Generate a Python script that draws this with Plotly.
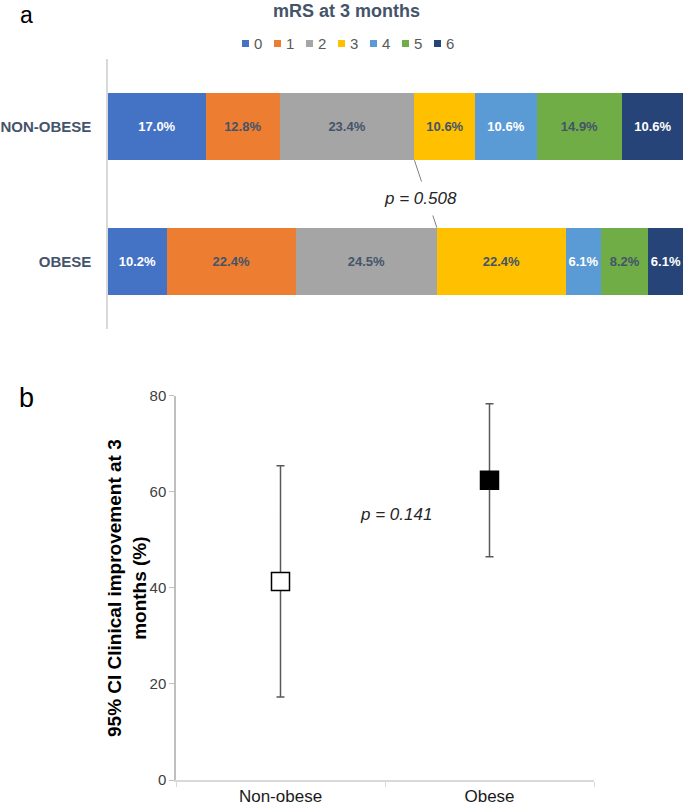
import plotly.graph_objects as go
import numpy as np

# ---------------- data ----------------
groups = ["NON-OBESE", "OBESE"]
mrs_levels = ["0", "1", "2", "3", "4", "5", "6"]
non_obese_pct = [17.0, 12.8, 23.4, 10.6, 10.6, 14.9, 10.6]
obese_pct = [10.2, 22.4, 24.5, 22.4, 6.1, 8.2, 6.1]
p_mrs = "p = 0.508"

ci_groups = ["Non-obese", "Obese"]
ci_mean = [41.3, 62.4]
ci_upper = [65.4, 78.3]
ci_lower = [17.3, 46.5]
p_ci = "p = 0.141"
y_ticks = [0, 20, 40, 60, 80]

# ---------------- style ----------------
colors = ["#4472C4", "#ED7D31", "#A5A5A5", "#FFC000", "#5B9BD5", "#70AD47", "#264478"]
label_colors = ["#FFFFFF", "#44546A", "#44546A", "#44546A", "#FFFFFF", "#44546A", "#FFFFFF"]
FONT = "Arial, Liberation Sans, sans-serif"
W, H = 685, 808

def px(x):
    return x / W

def py(y):
    return 1 - y / H

fig = go.Figure()

# ---------------- panel a: stacked bars ----------------
for i, lvl in enumerate(mrs_levels):
    vals = [obese_pct[i], non_obese_pct[i]]
    fig.add_trace(go.Bar(
        y=["OBESE", "NON-OBESE"], x=vals, orientation="h",
        name=lvl, marker=dict(color=colors[i], line=dict(width=0)),
        text=[f"{v:.1f}%" for v in vals], textposition="inside",
        insidetextanchor="middle", constraintext="none", textangle=0,
        textfont=dict(family=FONT, size=13, color=label_colors[i], weight="bold"),
        xaxis="x", yaxis="y", showlegend=False, hoverinfo="skip",
    ))

# ---------------- panel b: CI plot ----------------
err_plus = [u - m for u, m in zip(ci_upper, ci_mean)]
err_minus = [m - l for m, l in zip(ci_mean, ci_lower)]
fig.add_trace(go.Scatter(
    x=ci_groups, y=ci_mean, mode="markers",
    marker=dict(symbol="square", size=18,
                color=["#FFFFFF", "#000000"],
                line=dict(color="#000000", width=1.5)),
    error_y=dict(type="data", array=err_plus, arrayminus=err_minus,
                 color="#595959", thickness=1.5, width=4),
    xaxis="x2", yaxis="y2", showlegend=False,
))

fig.update_layout(
    width=W, height=H,
    margin=dict(l=0, r=0, t=0, b=0, autoexpand=False),
    paper_bgcolor="white", plot_bgcolor="white",
    barmode="stack", bargap=0.5,
    font=dict(family=FONT),
    xaxis=dict(domain=[px(108), px(684)], range=[0, 100], visible=False,
               anchor="y", automargin=False),
    yaxis=dict(domain=[py(329), py(59)], range=[-0.5, 1.5], type="category",
               categoryorder="array", categoryarray=["OBESE", "NON-OBESE"],
               showline=True, linecolor="#D9D9D9", linewidth=1.5,
               ticks="", showgrid=False, zeroline=False, automargin=False,
               tickfont=dict(family=FONT, size=15, color="#44546A", weight="bold"),
               ticklabelstandoff=12, anchor="x"),
    xaxis2=dict(domain=[px(176), px(594)], type="category",
                categoryorder="array", categoryarray=ci_groups,
                range=[-0.5, 1.5], showline=True, linecolor="#D9D9D9",
                linewidth=1.5, ticks="outside", tickson="boundaries",
                ticklen=5, tickcolor="#D9D9D9", showgrid=False, automargin=False,
                tickfont=dict(family=FONT, size=17, color="#1a1a1a"),
                anchor="y2"),
    yaxis2=dict(domain=[py(780), py(395.7)], range=[0, 80],
                tickvals=y_ticks, showline=True, linecolor="#BFBFBF",
                linewidth=1.5, ticks="outside", ticklen=5, tickcolor="#BFBFBF",
                showgrid=False, zeroline=False, automargin=False,
                tickfont=dict(family=FONT, size=15, color="#404040"),
                anchor="x2"),
)

# connector between 2|3 boundaries with p value
cum_non = float(np.sum(non_obese_pct[:3]))
cum_ob = float(np.sum(obese_pct[:3]))
fig.add_shape(type="line", xref="x", yref="y",
              x0=cum_non, y0=0.75, x1=cum_ob, y1=0.25,
              line=dict(color="#7F7F7F", width=1))

def ann(text, x, y, size, color, **kw):
    d = dict(text=text, x=px(x), y=py(y), xref="paper", yref="paper",
             xanchor="center", yanchor="middle", showarrow=False,
             font=dict(family=FONT, size=size, color=color))
    d.update(kw)
    return d

annotations = [
    ann("<b>mRS at 3 months</b>", 346, 11, 18, "#44546A"),
    ann("a", 26, 0, 23, "#000000", yanchor="top"),
    ann("b", 26, 398, 27, "#000000"),
    ann(f"<i>{p_mrs}</i>", 420, 198, 17, "#262626", bgcolor="white", borderpad=7),
    ann(f"<i>{p_ci}</i>", 396, 514, 17, "#262626"),
    ann("<b>95% CI Clinical improvement at 3<br>months (%)</b>", 127, 588, 19,
        "#000000", textangle=-90),
]

# manual compact legend
for i, lvl in enumerate(mrs_levels):
    x0 = 242 + 32 * i
    fig.add_shape(type="rect", xref="paper", yref="paper",
                  x0=px(x0), x1=px(x0 + 7), y0=py(47), y1=py(40),
                  fillcolor=colors[i], line=dict(width=0))
    annotations.append(ann(lvl, x0 + 10, 43.5, 15, "#595959", xanchor="left"))

fig.update_layout(annotations=annotations)
fig.write_html("out.html", config={"displayModeBar": False},
               post_script="document.body.style.margin='0';document.body.style.overflow='hidden';")
